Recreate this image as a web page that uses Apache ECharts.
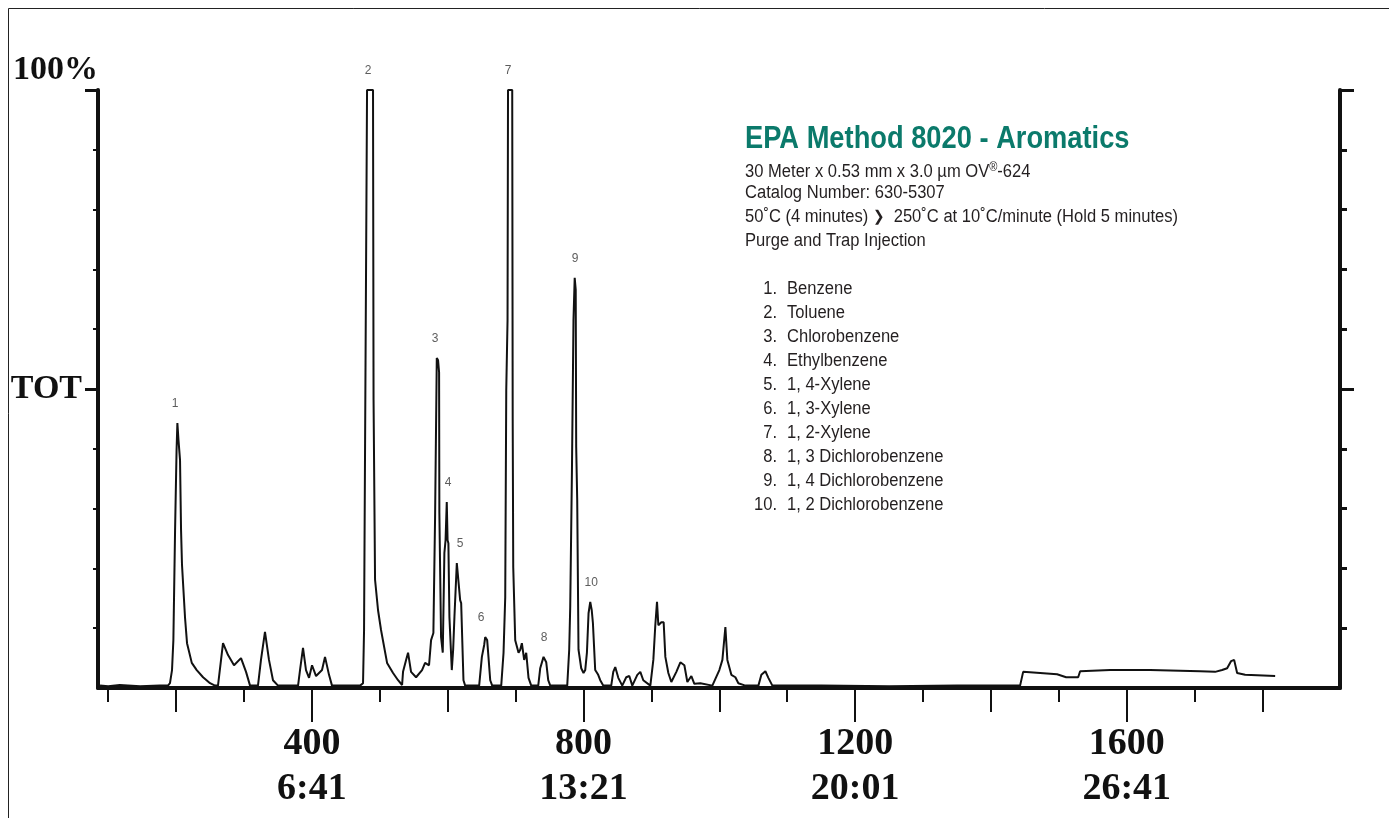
<!DOCTYPE html>
<html>
<head>
<meta charset="utf-8">
<title>EPA Method 8020 - Aromatics</title>
<script src="https://cdn.jsdelivr.net/npm/echarts@6/dist/echarts.min.js"></script>
<style>
  html, body { margin: 0; padding: 0; background: #fff; }
  #chart { width: 1389px; height: 818px; }
</style>
</head>
<body>
<div id="chart"></div>
<script>
// scan number vs. total ion current (% of full scale)
var traceScan = [88, 100, 117, 147, 176, 188, 191, 194, 196, 198.5, 200.7, 201.9, 203.5, 205.8, 207.3, 208.7, 213.2, 216.1, 223.1, 230.4, 239.7, 250, 257.3,
  261.7, 269.1, 276.5, 285.3, 295.6, 303, 308.9, 320.6, 325, 330.9, 336.8, 342.7, 350.1, 379.6, 382.5, 386.9, 391.3, 395.8, 400.2, 406.1, 414.9, 419.3, 425.2, 429.6,
  470.9, 475.3, 476.8, 479.7, 481.2, 490, 490.8, 493, 497.4, 501.8, 510.7, 519.5, 526.9, 532.8,
  534.2, 538.7, 541.6, 546, 553.4, 562.2, 566.7, 572.5, 575.5, 578.9, 581.4, 583.9, 585.8, 587.3, 587.7, 590.2, 592.7, 595.1, 596.8, 598.6, 599.8, 601, 602.5,
  606, 608, 609.9, 613.4, 615.3, 618.3, 619.8, 623.2, 625.7, 646.3, 650.3, 653.7, 655.2, 658.1, 660, 662.6, 665.5,
  678.8, 682.2, 684.7, 686.2, 688.1, 688.8, 695, 695.7, 696.5, 699.4, 704.3, 706.8, 709.2, 712.6, 715.6, 719, 723,
  733.3, 736.2, 741.1, 745.1, 748, 751, 776, 778.9, 780.4, 782.9, 785.2, 787, 788.5, 789.2, 790.7, 792.6, 796.6, 800, 802.5,
  805, 807.4, 809.9, 812.1, 813.8, 817.2, 821.6, 824.6, 829, 840.8, 843.8, 846.7, 851.2, 857, 862.9, 867.4, 871.8, 879.2, 883.6, 888,
  898.4, 902.8, 905.7, 908.2, 910.2, 914.6, 918, 920.5, 924.9, 929.3, 936.7, 942.6, 948.5, 952.9, 958.8, 963.2, 972.1, 989.7,
  1000, 1004.5, 1008.9, 1011.8, 1017.7, 1023.6, 1028, 1038.3, 1057.5, 1061.9, 1067.8, 1072.2, 1078.1, 1150, 1250, 1350, 1442.9,
  1447.4, 1497.4, 1510.7, 1528.4, 1531.3, 1575.5, 1634.4, 1708, 1730.1, 1740.4, 1747.8, 1753.7, 1758.1, 1762.5, 1774.3, 1818.5];
var tracePct = [0.4, 0.3, 0.5, 0.3, 0.4, 0.4, 0.8, 3.0, 8.0, 26.4, 39.8, 44.3, 41.5, 38.1, 26.4, 20.6, 11.7, 7.5, 4.2, 3.0, 1.8, 0.8, 0.4,
  0.4, 7.5, 5.5, 3.8, 5.0, 2.7, 0.4, 0.4, 4.7, 9.4, 4.7, 1.3, 0.4, 0.4, 3.0, 6.7, 3.0, 1.7, 3.8, 2.0, 3.0, 5.2, 2.2, 0.4,
  0.4, 0.8, 9.7, 9.7, 100, 100, 48.2, 18.1, 13.0, 9.7, 4.2, 2.5, 1.3, 0.5,
  2.7, 4.7, 5.9, 2.7, 1.8, 3.0, 4.2, 3.8, 8.0, 9.2, 28.6, 55.2, 54.8, 52.8, 29.3, 8.5, 5.9, 22.6, 24.7, 31.1, 24.7, 24.2, 11.9,
  3.0, 6.4, 11.9, 20.9, 20.9, 14.7, 14.2, 1.3, 0.4, 0.4, 5.2, 7.2, 8.5, 8.0, 5.2, 1.3, 0.4,
  0.4, 5.9, 15.2, 49.8, 61.5, 100, 100, 44.8, 20.2, 8.0, 5.9, 6.4, 7.5, 4.7, 5.9, 1.7, 0.4,
  0.4, 3.3, 5.2, 4.3, 1.3, 0.4, 0.4, 6.4, 13.5, 36.0, 61.5, 68.6, 66.6, 40.3, 31.4, 6.4, 3.3, 2.5, 3.0,
  5.9, 12.5, 14.4, 13.0, 10.9, 3.0, 2.2, 1.3, 0.4, 0.4, 2.7, 3.5, 1.7, 0.4, 1.8, 2.0, 0.4, 2.2, 2.7, 1.3,
  0.4, 4.7, 10.5, 14.4, 10.5, 11.0, 11.0, 5.2, 2.5, 1.0, 2.7, 4.3, 3.8, 1.0, 2.0, 0.7, 0.8, 0.4,
  3.0, 4.7, 10.2, 4.7, 2.2, 1.8, 0.8, 0.4, 0.4, 2.2, 2.8, 1.7, 0.4, 0.4, 0.3, 0.4, 0.4,
  2.7, 2.3, 1.8, 1.8, 2.8, 3.0, 3.0, 2.8, 2.7, 3.0, 3.3, 4.5, 4.7, 2.5, 2.2, 2.0];

// numbered peaks
var peakIds = ['1', '2', '3', '4', '5', '6', '7', '8', '9', '10'];
var peakScans = [198.4, 482.7, 581.4, 600.5, 618.3, 649.2, 689, 742, 787.6, 811.2];
var peakHeights = [44.3, 100, 55.2, 31.1, 20.9, 8.5, 100, 5.2, 68.6, 14.4];

var compounds = ['Benzene', 'Toluene', 'Chlorobenzene', 'Ethylbenzene', '1, 4-Xylene', '1, 3-Xylene',
  '1, 2-Xylene', '1, 3 Dichlorobenzene', '1, 4 Dichlorobenzene', '1, 2 Dichlorobenzene'];

// axis ticks / labels
var xShortTicks = [100, 300, 500, 700, 900, 1100, 1300, 1500, 1700];
var xMidTicks = [200, 600, 1000, 1400, 1800];
var xLabelScans = [400, 800, 1200, 1600];
var xLabelTimes = ['6:41', '13:21', '20:01', '26:41'];
var yMinorTicks = [10, 20, 30, 40, 60, 70, 80, 90];
var yMajorTicks = [50, 100];
var yLabels = { 50: 'TOT', 100: '100%' };

var titleText = 'EPA Method 8020 - Aromatics';
var infoLines = [
  '30 Meter x 0.53 mm x 3.0 µm OV{sup|®}-624',
  'Catalog Number: 630-5307',
  '50˚C (4 minutes) {b|❯}  250˚C at 10˚C/minute (Hold 5 minutes)',
  'Purge and Trap Injection'
];

var sans = "'Liberation Sans', Arial, sans-serif";
var printer = "'Liberation Serif', 'DejaVu Serif', serif";
var ink = '#111';
var textInk = '#231f20';
var titleScale = 0.88;
var bodyScale = 0.92;

var myChart = echarts.init(document.getElementById('chart'));

var graphics = [
  { type: 'rect', shape: { x: 8.5, y: 8.5, width: 1400, height: 830 }, style: { fill: 'none', stroke: '#222', lineWidth: 1 } },
  {
    type: 'text', x: 745, y: 139, scaleX: titleScale,
    style: { text: titleText, font: 'bold 31px ' + sans, fill: '#0b7a6b', textVerticalAlign: 'middle' }
  }
];
var infoY = [172, 193, 217, 241];
infoLines.forEach(function (t, i) {
  graphics.push({
    type: 'text', x: 745, y: infoY[i], scaleX: bodyScale,
    style: {
      text: t, font: '18px ' + sans, fill: textInk, textVerticalAlign: 'middle',
      rich: {
        sup: { fontSize: 12, fontFamily: sans, fill: textInk, padding: [0, 0, 8, 0] },
        b: { fontSize: 15, fontWeight: 'bold', fontFamily: 'DejaVu Sans', fill: textInk }
      }
    }
  });
});
compounds.forEach(function (c, i) {
  var y = 289 + i * 24;
  graphics.push({ type: 'text', x: 777, y: y, scaleX: bodyScale, style: { text: (i + 1) + '.', font: '18px ' + sans, fill: textInk, textAlign: 'right', textVerticalAlign: 'middle' } });
  graphics.push({ type: 'text', x: 787, y: y, scaleX: bodyScale, style: { text: c, font: '18px ' + sans, fill: textInk, textVerticalAlign: 'middle' } });
});

var option = {
  animation: false,
  backgroundColor: '#fff',
  grid: { left: 98, right: 49, top: 90, bottom: 130, outerBoundsMode: 'none', containLabel: false },
  xAxis: [
    {
      type: 'value', position: 'bottom', min: 85, max: 1914,
      axisLine: { show: true, onZero: false, lineStyle: { color: ink, width: 4 } },
      axisTick: { show: true, customValues: xShortTicks, length: 14, lineStyle: { color: ink, width: 2 } },
      axisLabel: { show: false },
      splitLine: { show: false }
    },
    {
      type: 'value', position: 'bottom', min: 85, max: 1914,
      axisLine: { show: false, onZero: false },
      axisTick: { show: true, customValues: xMidTicks, length: 24, lineStyle: { color: ink, width: 2 } },
      axisLabel: { show: false },
      splitLine: { show: false }
    },
    {
      type: 'value', position: 'bottom', min: 85, max: 1914,
      axisLine: { show: false, onZero: false },
      axisTick: { show: true, customValues: xLabelScans, length: 34, lineStyle: { color: ink, width: 2 } },
      axisLabel: {
        show: true, customValues: xLabelScans, margin: 34,
        formatter: function (v) { return v + '\n' + xLabelTimes[xLabelScans.indexOf(v)]; },
        fontFamily: printer, fontWeight: 'bold', fontSize: 38, lineHeight: 45, color: ink
      },
      splitLine: { show: false }
    }
  ],
  yAxis: [
    {
      type: 'value', position: 'left', min: 0, max: 100,
      axisLine: { show: true, onZero: false, lineStyle: { color: ink, width: 4 } },
      axisTick: { show: true, customValues: yMinorTicks, length: 5, lineStyle: { color: ink, width: 2 } },
      axisLabel: {
        show: true, customValues: yMajorTicks, margin: 0,
        formatter: function (v) { return v === 100 ? '{top|' + yLabels[v] + '}' : '{tot|' + yLabels[v] + '}'; },
        rich: {
          top: { fontFamily: printer, fontWeight: 'bold', fontSize: 34, color: ink, padding: [0, 0, 40, 0] },
          tot: { fontFamily: printer, fontWeight: 'bold', fontSize: 34, color: ink, padding: [0, 16, 0, 0] }
        }
      },
      splitLine: { show: false }
    },
    {
      type: 'value', position: 'left', min: 0, max: 100,
      axisLine: { show: false, onZero: false },
      axisTick: { show: true, customValues: yMajorTicks, length: 13, lineStyle: { color: ink, width: 3 } },
      axisLabel: { show: false },
      splitLine: { show: false }
    },
    {
      type: 'value', position: 'right', min: 0, max: 100,
      axisLine: { show: true, onZero: false, lineStyle: { color: ink, width: 4 } },
      axisTick: { show: true, customValues: yMinorTicks, length: 7, lineStyle: { color: ink, width: 3 } },
      axisLabel: { show: false },
      splitLine: { show: false }
    },
    {
      type: 'value', position: 'right', min: 0, max: 100,
      axisLine: { show: false, onZero: false },
      axisTick: { show: true, customValues: yMajorTicks, length: 14, lineStyle: { color: ink, width: 3 } },
      axisLabel: { show: false },
      splitLine: { show: false }
    }
  ],
  graphic: graphics,
  series: [
    {
      name: 'TIC',
      type: 'line',
      xAxisIndex: 0, yAxisIndex: 0,
      symbol: 'none',
      lineStyle: { color: ink, width: 2 },
      data: traceScan.map(function (s, i) { return [s, tracePct[i]]; }),
      z: 3
    },
    {
      name: 'Peaks',
      type: 'scatter',
      xAxisIndex: 0, yAxisIndex: 0,
      symbolSize: 0,
      clip: false,
      label: {
        show: true, position: 'top', distance: 13,
        formatter: function (p) { return peakIds[p.dataIndex]; },
        fontFamily: sans, fontSize: 12, color: '#333'
      },
      data: peakScans.map(function (s, i) { return [s, peakHeights[i]]; }),
      z: 4
    }
  ]
};

myChart.setOption(option);
</script>
</body>
</html>
